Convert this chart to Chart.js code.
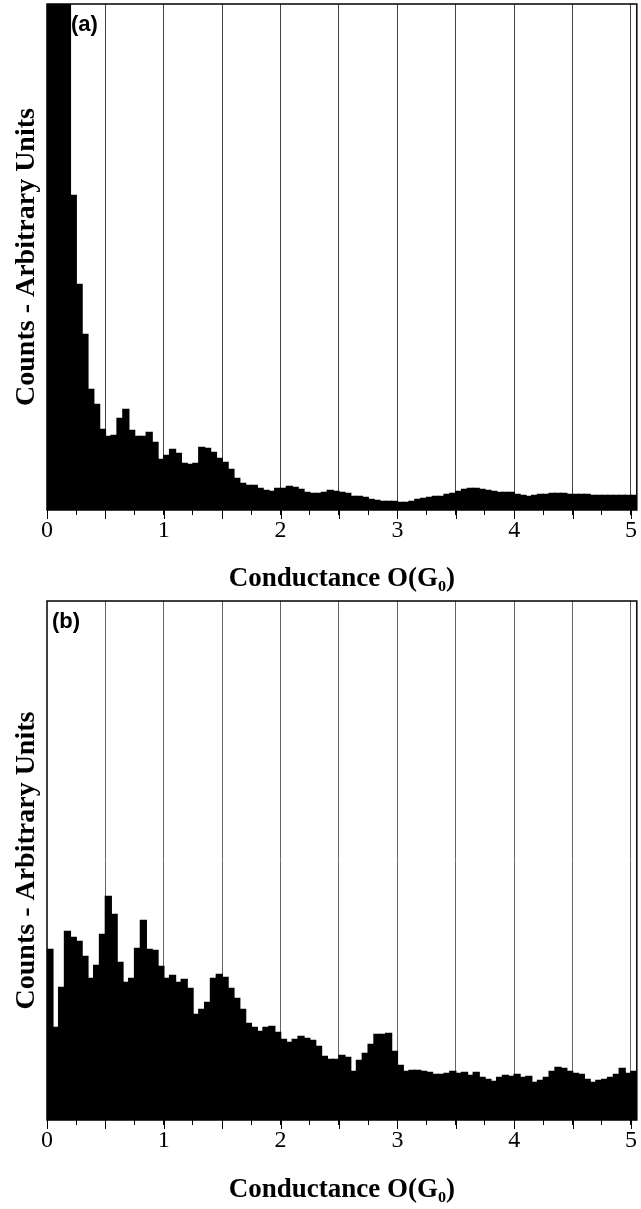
<!DOCTYPE html>
<html><head><meta charset="utf-8">
<script src="https://cdn.jsdelivr.net/npm/chart.js@4"></script>
<style>
html,body{margin:0;padding:0;background:#fff;}
body{width:641px;height:1209px;position:relative;overflow:hidden;}
.box{position:absolute;left:0;width:641px;}
#boxA{top:0;height:597px;}
#boxB{top:597px;height:612px;}
</style></head><body>
<div class="box" id="boxA"><canvas id="chartA" width="641" height="597"></canvas></div>
<div class="box" id="boxB"><canvas id="chartB" width="641" height="612"></canvas></div>
<script>
// Bin centres (G0), 0.05 G0 bins
const binCenters = [
0.025,0.075,0.125,0.175,0.225,0.275,0.325,0.375,0.425,0.475,
0.525,0.575,0.625,0.675,0.725,0.775,0.825,0.875,0.925,0.975,
1.025,1.075,1.125,1.175,1.225,1.275,1.325,1.375,1.425,1.475,
1.525,1.575,1.625,1.675,1.725,1.775,1.825,1.875,1.925,1.975,
2.025,2.075,2.125,2.175,2.225,2.275,2.325,2.375,2.425,2.475,
2.525,2.575,2.625,2.675,2.725,2.775,2.825,2.875,2.925,2.975,
3.025,3.075,3.125,3.175,3.225,3.275,3.325,3.375,3.425,3.475,
3.525,3.575,3.625,3.675,3.725,3.775,3.825,3.875,3.925,3.975,
4.025,4.075,4.125,4.175,4.225,4.275,4.325,4.375,4.425,4.475,
4.525,4.575,4.625,4.675,4.725,4.775,4.825,4.875,4.925,4.975,
5.025];

// Panel (a) counts (arbitrary units)
const countsA = [
1600,1150,820,560,315,226,176,121,106,81,
74,75,92,101,80,74,74,78,68,51,
55,61,57,47,46,47,63,62,58,52,
48,41,32,27,25,25,22,20,19,22,
22,24,23,21,18,17,17,18,20,19,
18,17,14,14,13,11,10,9,9,9,
8,8,9,11,12,13,14,14,16,17,
19,21,22,22,21,20,19,18,18,18,
16,15,14,15,16,16,17,17,17,16,
16,16,16,15,15,15,15,15,15,15,
15];

// Panel (b) counts (arbitrary units)
const countsB = [
171,93,133,189,183,179,164,142,155,186,
224,206,158,138,142,172,200,171,170,154,
142,145,138,141,132,106,111,118,142,146,
143,132,122,111,97,93,89,93,94,88,
81,78,81,84,82,80,74,64,61,61,
65,63,49,60,67,76,86,86,87,69,
55,49,50,50,49,48,46,46,47,49,
47,48,45,48,43,41,39,43,45,44,
46,43,44,38,40,43,49,53,52,49,
47,46,41,38,40,41,43,46,52,47,
49];

const tickValues = [0,0.25,0.5,0.75,1,1.25,1.5,1.75,2,2.25,2.5,2.75,3,3.25,3.5,3.75,4,4.25,4.5,4.75,5];
const tickLabels = ['0','1','2','3','4','5'];
const panelLabels = ['(a)','(b)'];
const xTitle = 'Conductance O(G\u2080)';
const yTitle = 'Counts - Arbitrary Units';

const isMajor = v => Math.abs(v * 2 - Math.round(v * 2)) < 1e-9;

const framePlugin = {
  id: 'frame',
  afterDraw(chart, args, opts) {
    const {ctx, chartArea: {left, top, right, bottom}} = chart;
    const xs = chart.scales.x;
    ctx.save();
    ctx.strokeStyle = '#000';
    ctx.lineWidth = 1;
    tickValues.forEach(v => {
      if (isMajor(v)) {
        const px = Math.round(xs.getPixelForValue(v)) + 0.5;
        ctx.beginPath(); ctx.moveTo(px, bottom); ctx.lineTo(px, bottom + opts.majorLen); ctx.stroke();
      }
    });
    ctx.lineWidth = 1.5;
    ctx.strokeRect(left, top, right - left, bottom - top);
    ctx.font = 'bold 22px "Liberation Sans"';
    ctx.fillStyle = '#000';
    ctx.textBaseline = 'middle';
    ctx.textAlign = 'left';
    ctx.fillText(opts.label, opts.labelX, top + opts.labelDy);
    ctx.restore();
  }
};

function makeChart(id, counts, cfg) {
  return new Chart(document.getElementById(id), {
    type: 'bar',
    data: {
      datasets: [{
        data: binCenters.map((x, i) => ({x: x, y: counts[i]})),
        backgroundColor: '#000',
        borderWidth: 0,
        barThickness: 6.6,
        grouped: false
      }]
    },
    options: {
      responsive: false,
      animation: false,
      layout: {padding: {left: 0, right: 2.6, top: 4, bottom: 0}},
      plugins: {
        legend: {display: false},
        tooltip: {enabled: false},
        frame: {label: cfg.label, labelX: cfg.labelX, labelDy: 21, majorLen: 9}
      },
      scales: {
        x: {
          type: 'linear', min: 0, max: 5.05, offset: false,
          afterBuildTicks: s => { s.ticks = tickValues.map(v => ({value: v})); },
          afterFit: s => { s.height = cfg.xAxisHeight; },
          grid: {
            offset: false,
            color: c => (c.tick && isMajor(c.tick.value) && c.tick.value > 0) ? cfg.gridColor : 'rgba(0,0,0,0)',
            tickColor: '#000', tickLength: 5, lineWidth: 1
          },
          border: {display: false},
          ticks: {
            autoSkip: false, maxRotation: 0, minRotation: 0, color: '#000', padding: 4,
            font: {family: '"Liberation Serif"', size: 24, lineHeight: 1},
            callback: v => Number.isInteger(v) ? tickLabels[v] : ''
          },
          title: {
            display: true, text: xTitle, color: '#000',
            font: {family: '"Liberation Serif"', size: 27, weight: 'bold', lineHeight: 1.2},
            padding: {top: 0, bottom: cfg.titlePad}
          }
        },
        y: {
          min: 0, max: cfg.yMax,
          afterFit: s => { s.width = 47; },
          ticks: {display: false},
          grid: {display: false, drawTicks: false},
          border: {display: false},
          title: {
            display: true, text: yTitle, color: '#000',
            font: {family: '"Liberation Serif"', size: 28, weight: 'bold', lineHeight: 1.2},
            padding: {top: 10.2, bottom: 0}
          }
        }
      }
    },
    plugins: [framePlugin]
  });
}

makeChart('chartA', countsA, {yMax: 506, xAxisHeight: 87, titlePad: 1.8, gridColor: '#444', label: panelLabels[0], labelX: 71});
makeChart('chartB', countsB, {yMax: 519, xAxisHeight: 89, titlePad: 2.8, gridColor: '#666', label: panelLabels[1], labelX: 52});
</script>
</body></html>
